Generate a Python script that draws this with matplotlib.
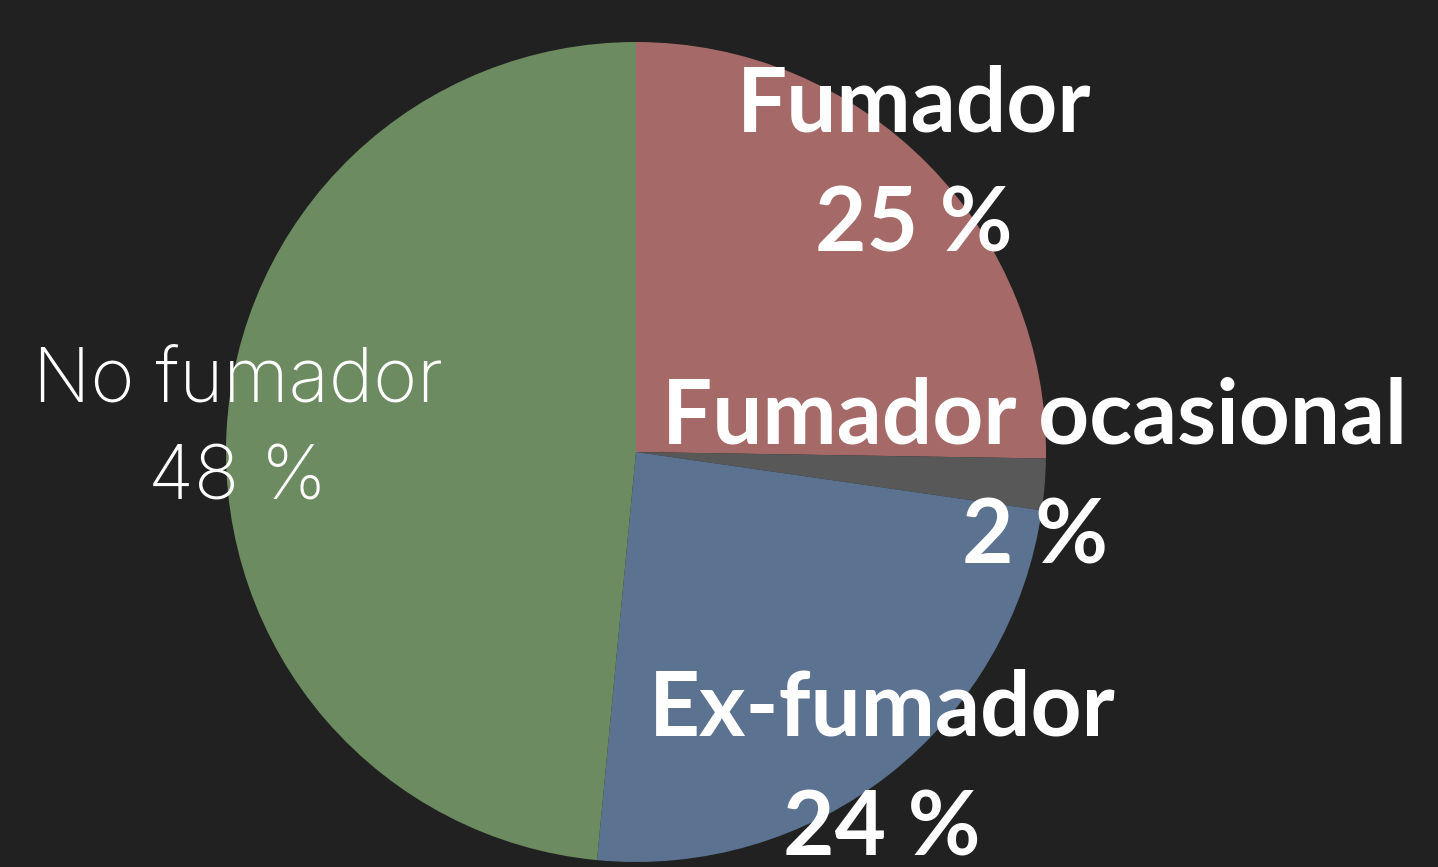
import matplotlib
matplotlib.use("Agg")
from matplotlib import pyplot as plt

# datos de la encuesta
categorias = ["Fumador", "Fumador ocasional", "Ex-fumador", "No fumador"]
porcentajes = [25, 2, 24, 48]
colores = ["#a56a68", "#585858", "#5b7290", "#6c8b60"]

# centro x y lineas base (pixeles desde arriba) de cada etiqueta
pos_x = [914, 1035, 882, 238]
base_nombre = [132, 443, 735, 402]
base_valor = [252, 563, 855, 500]
alto = 867

fig = plt.figure(figsize=(14.38, 8.67), dpi=100)
fig.patch.set_facecolor("#212121")
ax = fig.add_axes([0, 0, 1, 1])
ax.set_facecolor("#212121")

ax.pie(porcentajes, colors=colores, startangle=90, counterclock=False,
       center=(636, alto - 452), radius=410, frame=True,
       wedgeprops=dict(linewidth=0))
ax.set_xlim(0, 1438)
ax.set_ylim(0, alto)
ax.set_aspect("equal")
ax.axis("off")

for i, (cat, val) in enumerate(zip(categorias, porcentajes)):
    ligera = cat == "No fumador"
    estilo = dict(ha="center", va="baseline", color="white")
    if ligera:
        estilo.update(family="Inter", fontsize=54, fontweight="light")
    else:
        estilo.update(family="Lato", fontsize=64, fontweight="bold")
    ax.text(pos_x[i], alto - base_nombre[i], cat, **estilo)
    ax.text(pos_x[i], alto - base_valor[i], f"{val} %", **estilo)

fig.savefig("out.png", dpi=100, facecolor=fig.get_facecolor())
